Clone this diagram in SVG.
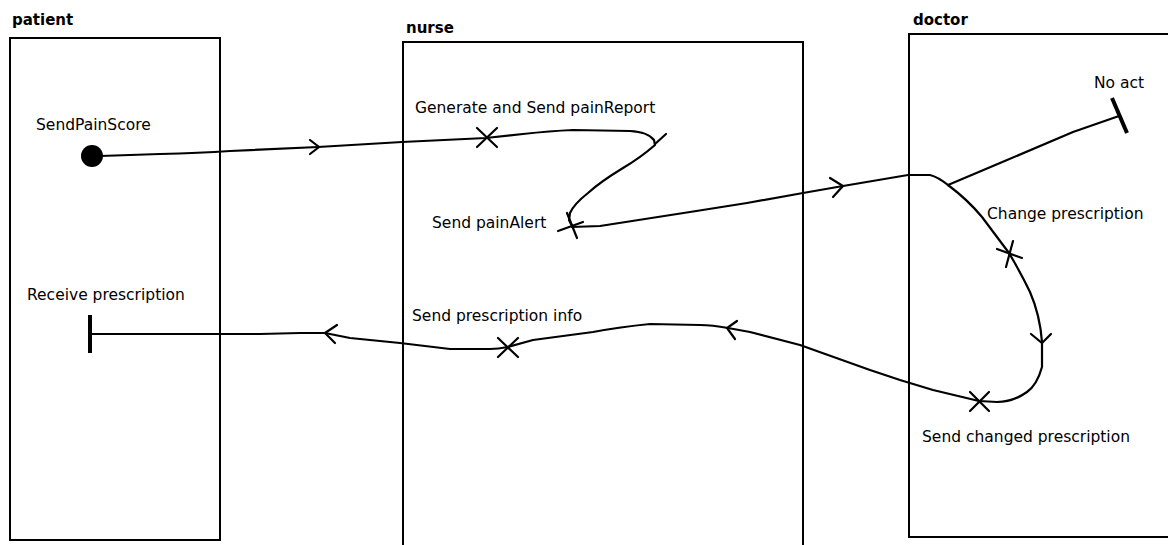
<svg xmlns="http://www.w3.org/2000/svg" width="1168" height="545" viewBox="0 0 1168 545">
  <style>
    .lane { fill: none; stroke: #000; stroke-width: 2; }
    .title { font-family: "DejaVu Sans", Verdana, sans-serif; font-size: 15px; font-weight: bold; fill: #000; }
    .lbl { font-family: "DejaVu Sans", Verdana, sans-serif; font-size: 15.5px; fill: #000; }
    .wire { fill: none; stroke: #000; stroke-width: 2.2; stroke-linejoin: round; stroke-linecap: round; }
    .mark { fill: none; stroke: #000; stroke-width: 2.2; stroke-linecap: round; }
    .bar { fill: none; stroke: #000; stroke-width: 4; }
  </style>
  <rect width="1168" height="545" fill="#fff"/>

  <!-- swimlanes -->
  <g id="lane-patient">
    <rect class="lane" x="10" y="38" width="210" height="502"/>
    <text class="title" x="12" y="25">patient</text>
  </g>
  <g id="lane-nurse">
    <path class="lane" d="M403 548 V42 H803 V548"/>
    <text class="title" x="406" y="33">nurse</text>
  </g>
  <g id="lane-doctor">
    <path class="lane" d="M1172 34 H909 V537 H1172"/>
    <text class="title" x="913" y="25">doctor</text>
  </g>

  <!-- flow lines -->
  <g id="connectors">
    <path class="wire" d="M100 156 L160 154 Q200 153 230 151 L318 147 L402 142 L486 138 L523 134 Q550 131 573 130 L630 131 Q648 132 654 140 L655 145 Q640 158 623 168 Q600 182 588 193 Q574 204 570 213 L569 220 L572 226"/>
    <path class="wire" d="M572 227 L600 226 L690 212 L747 203 L803 193 L843 186 L908 175 L930 175 Q938 177 948 185"/>
    <path class="wire" d="M948 185 L1000 163 L1073 132 L1119 116"/>
    <path class="wire" d="M948 185 Q968 200 982 217 L997 237 L1009 253 Q1022 275 1030 292 Q1040 315 1042 342 L1042 367 Q1037 385 1027 392 Q1013 402 997 402 L979 401 L933 390 L900 380 L870 370 L800 345 L750 332 L728 328 Q712 325 700 325 L650 324 Q620 327 593 332 L533 340 L508 347 Q498 349 490 349 L450 349 L400 343 L350 338 L325 333 L300 333 L260 334 L220 334 L90 334"/>
    <!-- arrowheads -->
    <path class="mark" d="M310 140 L319 147 L310 154"/>
    <path class="mark" d="M830 178 L843 186 L833 197"/>
    <path class="mark" d="M1031 334 L1042 343 L1051 334"/>
    <path class="mark" d="M737 321 L727 328 L735 339"/>
    <path class="mark" d="M337 325 L325 333 L335 343"/>
    <!-- junction tick -->
    <path class="mark" d="M655 144 L666 134"/>
  </g>

  <!-- states and actions -->
  <g id="start">
    <circle cx="92" cy="156" r="11" fill="#000"/>
    <text class="lbl" x="36" y="130">SendPainScore</text>
  </g>
  <g id="act-pain-report">
    <path class="mark" d="M477 128 L497 147 M497 128 L477 147"/>
    <text class="lbl" x="415" y="113">Generate and Send painReport</text>
  </g>
  <g id="act-pain-alert">
    <path class="mark" d="M558 231 L583 222 M567 213 L577 238"/>
    <text class="lbl" x="432" y="228">Send painAlert</text>
  </g>
  <g id="end-no-act">
    <line class="bar" x1="1112" y1="98" x2="1127" y2="133"/>
    <text class="lbl" x="1094" y="88">No act</text>
  </g>
  <g id="act-change">
    <path class="mark" d="M997 249 L1022 258 M1013 241 L1006 267"/>
    <text class="lbl" x="987" y="219">Change prescription</text>
  </g>
  <g id="act-send-changed">
    <path class="mark" d="M970 392 L989 411 M989 392 L970 411"/>
    <text class="lbl" x="922" y="442">Send changed prescription</text>
  </g>
  <g id="act-send-info">
    <path class="mark" d="M498 338 L518 357 M518 338 L498 357"/>
    <text class="lbl" x="412" y="321">Send prescription info</text>
  </g>
  <g id="end-receive">
    <line class="bar" x1="90" y1="315" x2="90" y2="353"/>
    <text class="lbl" x="27" y="300">Receive prescription</text>
  </g>
</svg>
